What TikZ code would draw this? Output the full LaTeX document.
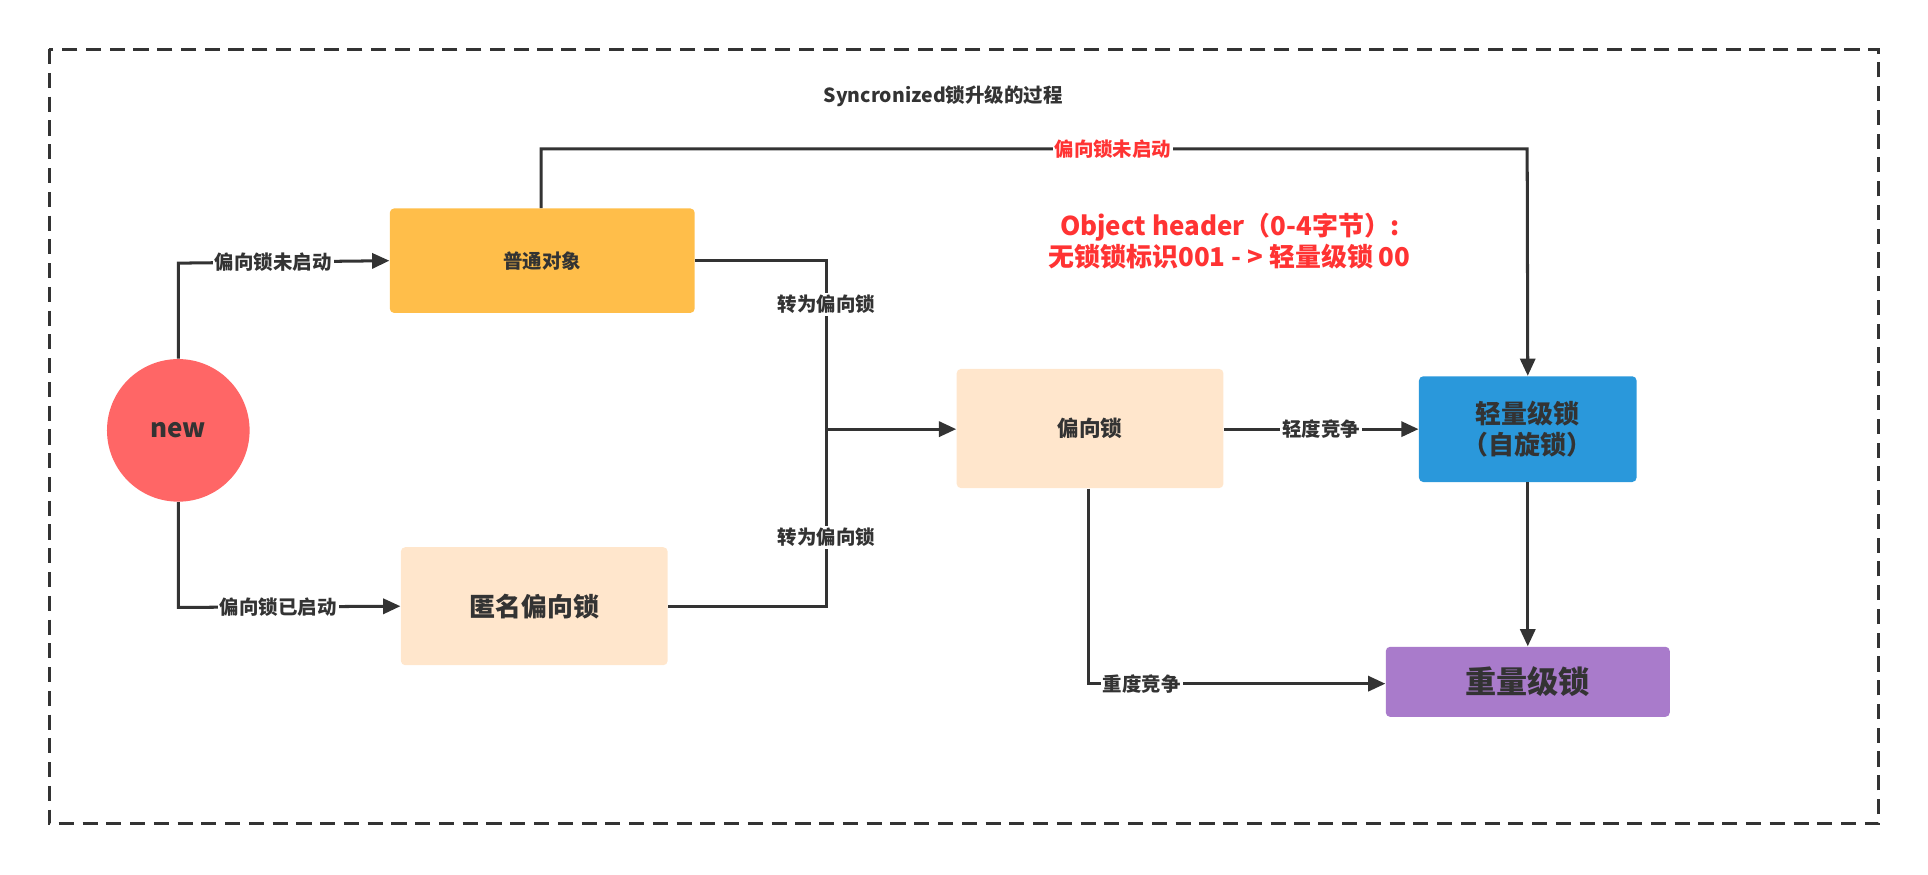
\documentclass[tikz,border=0pt]{standalone}
\usepackage{fontspec}
\setmainfont{Noto Sans CJK SC}
\usetikzlibrary{positioning,arrows.meta}
\definecolor{orangebox}{HTML}{FFBE4A}
\definecolor{peach}{HTML}{FFE6CC}
\definecolor{bluebox}{HTML}{2A98DB}
\definecolor{purplebox}{HTML}{A97BCB}
\definecolor{newred}{HTML}{FF6666}
\definecolor{redtext}{HTML}{FF3333}
\definecolor{line}{HTML}{333333}
\begin{document}
\begin{tikzpicture}[x=0.02cm,y=-0.02cm,>={Triangle[length=8pt,width=7pt]},
    state/.style={rectangle,rounded corners=2pt,draw=none,font=\bfseries\small,text=line},
    flow/.style={draw=line,line width=1.4pt},
    lbl/.style={fill=white,inner sep=1pt,font=\bfseries\small,text=line}]
    \useasboundingbox (0,0) rectangle (1568,711);
    \draw[line, line width=1.4pt, dash pattern=on 7pt off 4pt] (40,40) rectangle (1528,670);
    \node[font=\bfseries\small,text=line] (title) at (767,78) {Syncronized锁升级的过程};
    % states
    \node[circle,fill=newred,minimum size=2.32cm,font=\bfseries\large,text=line] (new) at (145,350) {new};
    \node[state,fill=orangebox,minimum width=4.96cm,minimum height=1.7cm] (plain) at (441,212) {普通对象};
    \node[state,fill=peach,minimum width=4.34cm,minimum height=1.92cm,font=\bfseries\large] (anon) at (434.5,493) {匿名偏向锁};
    \node[state,fill=peach,minimum width=4.34cm,minimum height=1.94cm,font=\bfseries\normalsize] (biased) at (886.5,348.5) {偏向锁};
    \node[state,fill=bluebox,minimum width=3.54cm,minimum height=1.72cm,align=center,font=\bfseries\large] (light) at (1242.5,349) {轻量级锁\\（自旋锁）};
    \node[state,fill=purplebox,minimum width=4.62cm,minimum height=1.14cm,font=\bfseries\Large] (heavy) at (1242.5,554.5) {重量级锁};
    \node[font=\bfseries\large,text=redtext,align=center] (header) at (1000,196) {Object header（0-4字节）:\\无锁锁标识001 - > 轻量级锁 00};
    % connectors
    \coordinate (up) at (145,214);
    \coordinate (down) at (145,494);
    \draw[flow,->] (new.north) -- (up) -- node[lbl,pos=0.45]{偏向锁未启动} (plain.west);
    \draw[flow,->] (new.south) -- (down) -- node[lbl,pos=0.45]{偏向锁已启动} (anon.west);
    \coordinate (j1) at (672,212);
    \coordinate (j2) at (672,493);
    \coordinate (jm) at (672,349);
    \draw[flow] (plain.east |- j1) -- (j1) -- node[lbl,pos=0.26]{转为偏向锁} (jm) -- node[lbl,pos=0.61]{转为偏向锁} (j2) -- (anon.east |- j2);
    \draw[flow,->] (jm) -- (biased.west |- jm);
    \draw[flow,->] (biased.east |- jm) -- node[lbl]{轻度竞争} (light.west |- jm);
    \coordinate (t1) at (440,121);
    \coordinate (t2) at (1242,121);
    \draw[flow,->] (plain.north -| t1) -- (t1) -- node[lbl,text=redtext,pos=0.58]{偏向锁未启动} (t2) -- (light.north);
    \coordinate (b1) at (885,556);
    \draw[flow,->] (biased.south -| b1) -- (b1) -- node[lbl,pos=0.18]{重度竞争} (heavy.west |- b1);
    \draw[flow,->] (light.south) -- (heavy.north);
\end{tikzpicture}
\end{document}
